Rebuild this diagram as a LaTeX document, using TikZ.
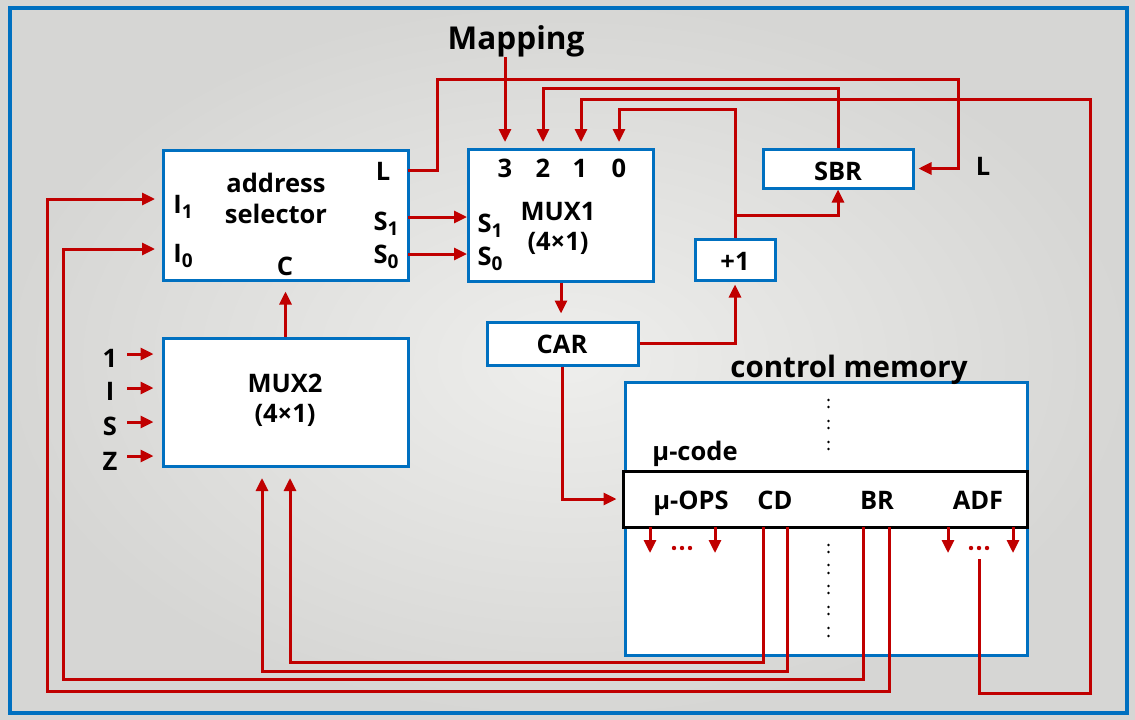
\documentclass[tikz,border=0pt]{standalone}
\usepackage{fontspec}
\setmainfont{Open Sans}
\usetikzlibrary{arrows.meta,calc}
\definecolor{bblue}{RGB}{0,112,192}
\definecolor{rred}{RGB}{192,0,0}
\definecolor{bgin}{RGB}{238,238,236}
\definecolor{bgout}{RGB}{214,214,212}
\newcommand\mysub[1]{\raisebox{-5pt}{\fontsize{19}{19}\selectfont #1}}
\tikzset{
  box/.style={draw=bblue,line width=3pt,fill=white,inner sep=0pt},
  rowbox/.style={draw=black,line width=3pt,fill=white,inner sep=0pt},
  wire/.style={draw=rred,line width=3pt},
  arr/.style={wire,-{Triangle[length=13pt,width=12pt]}},
  tl/.style={font=\fontsize{25.5}{30}\selectfont\bfseries,inner sep=0pt,anchor=base},
  tbig/.style={font=\fontsize{29}{34}\selectfont\bfseries,inner sep=0pt,anchor=base},
  rdot/.style={fill=rred,draw=none},
  kdot/.style={fill=black,draw=none},
}
\begin{document}
\begin{tikzpicture}[x=1pt,y=-1pt]
\useasboundingbox (0,0) rectangle (1135,720);
\shade[inner color=bgin,outer color=bgout] (0,0) rectangle (1135,720);
\draw[bblue,line width=4pt] (10,8) rectangle (1127,713);

% boxes
\node[box,minimum width=245pt,minimum height=130pt] (as) at (285.5,215) {};
\node[box,minimum width=185pt,minimum height=132pt] (mux1) at (561,215) {};
\node[box,minimum width=150pt,minimum height=39pt] (sbr) at (838,168.5) {};
\node[box,minimum width=80pt,minimum height=41pt] (plus) at (735,259.5) {};
\node[box,minimum width=151pt,minimum height=43pt] (car) at (562.5,343.5) {};
\node[box,minimum width=245pt,minimum height=128pt] (mux2) at (285.5,402) {};
\node[box,minimum width=402pt,minimum height=273pt] (cm) at (826,518.5) {};
\node[rowbox,minimum width=404pt,minimum height=56pt] (row) at (825,499) {};

% texts
\node[tbig,font=\fontsize{31.5}{34}\selectfont\bfseries] (mapping) at (516,49) {Mapping};
\node[tl] (tA) at (276,192) {address};
\node[tl] (tSel) at (276,223) {selector};
\node[tl] (tI1) at (183,213) {I\mysub{1}};
\node[tl] (tI0) at (183,262) {I\mysub{0}};
\node[tl] (tL) at (383,180) {L};
\node[tl] (tS1) at (386,230) {S\mysub{1}};
\node[tl] (tS0) at (386,263) {S\mysub{0}};
\node[tl] (tC) at (285,275) {C};

\node[tl] (n3) at (505,177) {3};
\node[tl] (n2) at (543,177) {2};
\node[tl] (n1) at (580,177) {1};
\node[tl] (n0) at (619,177) {0};
\node[tl] (mS1) at (490,232) {S\mysub{1}};
\node[tl] (mS0) at (490,265) {S\mysub{0}};
\node[tl] (mT) at (558,220) {MUX1};
\node[tl] (mP) at (558,250) {(4×1)};

\node[tl] (tSBR) at (838,180) {SBR};
\node[tl] (tL2) at (983,175) {L};
\node[tl] (tPlus) at (735,270) {+1};
\node[tl] (tCAR) at (562,353) {CAR};

\node[tl] (m2T) at (285,392) {MUX2};
\node[tl] (m2P) at (285,422) {(4×1)};
\node[tl] (q1) at (110,367) {1};
\node[tl] (qI) at (110,400) {I};
\node[tl] (qS) at (110,435) {S};
\node[tl] (qZ) at (110,470) {Z};

\node[tbig,font=\fontsize{29.5}{34}\selectfont\bfseries] (tCM) at (849,377) {control memory};
\node[tl] (tMu) at (695,460) {μ-code};
\node[tl] (fOps) at (691,509) {μ-OPS};
\node[tl] (fCD) at (775,509) {CD};
\node[tl] (fBR) at (877,509) {BR};
\node[tl] (fADF) at (978,509) {ADF};

% coordinates
\coordinate (in3) at (505,149);
\coordinate (in2) at (543,149);
\coordinate (in1) at (581,149);
\coordinate (in0) at (619,149);
\coordinate (asL) at (408,170);
\coordinate (s1a) at (408,217);
\coordinate (s0a) at (408,254);
\coordinate (i1) at (163,199);
\coordinate (i0) at (163,249);
\coordinate (adf) at (979,559);
\coordinate (brn) at (735,215);
\coordinate (cd1) at (763,527);
\coordinate (cd2) at (787,527);
\coordinate (br1) at (863,527);
\coordinate (br2) at (889,527);
\coordinate (m2a) at (290,466);
\coordinate (m2b) at (262,466);
\coordinate (p1) at (127,354);
\coordinate (p2) at (127,388);
\coordinate (p3) at (127,422);
\coordinate (p4) at (127,456);
\coordinate (o1) at (650,527);
\coordinate (o2) at (715,527);
\coordinate (o3) at (948,527);
\coordinate (o4) at (1013,527);

% wires
\draw[arr,shorten >=7pt] (mapping.south -| in3) -- (in3);
\draw[arr,shorten >=4pt] (asL) -| (437,79) -| (958,168.5) -- (sbr.east);
\draw[arr,shorten >=7pt] (sbr.north) |- (543,88) -- (in2);
\draw[arr,shorten >=7pt] (adf) |- (1090,693) |- (581,99) -- (in1);
\draw[arr,shorten >=7pt] (plus.north) |- (619,109) -- (in0);
\draw[arr] (brn) -| (sbr.south);
\draw[arr,shorten >=3pt] (car.east) -| (plus.south);
\draw[arr,shorten >=7pt] (mux1.south) -- (mux1.south |- car.north);
\draw[arr,shorten >=5pt] (car.south) |- (row.west);
\draw[arr] (s1a) -- (mux1.west |- s1a);
\draw[arr] (s0a) -- (mux1.west |- s0a);
\draw[arr,shorten >=10pt] (mux2.north) -- (as.south);
\draw[arr,shorten >=8pt] (br2) |- (47,691) |- (i1);
\draw[arr,shorten >=8pt] (br1) |- (63,679) |- (i0);
\draw[arr,shorten >=12pt] (cd1) |- (290,662) -- (m2a);
\draw[arr,shorten >=12pt] (cd2) |- (262,671) -- (m2b);
\foreach \p in {p1,p2,p3,p4} \draw[arr,shorten >=8pt] (\p) -- (mux2.west |- \p);
\foreach \o in {o1,o2,o3,o4} \draw[arr] (\o) -- ++(0,26);

% dots
\foreach \x in {674,682,690,971,979,987} \fill[rdot] (\x,548) circle (2.2pt);
\foreach \y in {400,407,421,428,442,449,545,552,565,573,586,593,607,614,628,636}
  \fill[kdot] (828.5,\y) circle (1.4pt);
\end{tikzpicture}
\end{document}
